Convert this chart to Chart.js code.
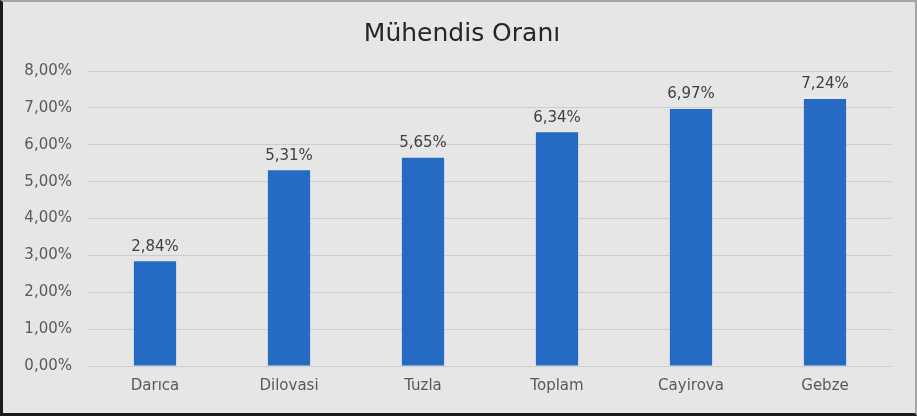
<!DOCTYPE html>
<html>
<head>
<meta charset="utf-8">
<script src="https://cdn.jsdelivr.net/npm/chart.js@4"></script>
<style>
  html, body { margin: 0; padding: 0; background: #ffffff; }
  #wrap {
    box-sizing: border-box;
    width: 917px; height: 416px;
    background: #e6e6e6;
    border-left: 3px solid #1c1c1c;
    border-bottom: 3px solid #1c1c1c;
    border-top: 2px solid #a6a6a6;
    border-right: 2px solid #a6a6a6;
    position: relative;
  }
</style>
</head>
<body>
<div id="wrap"><canvas id="chart"></canvas></div>
<script>
const categories = ["Darıca", "Dilovasi", "Tuzla", "Toplam", "Cayirova", "Gebze"];
const engineerRatio = [2.84, 5.31, 5.65, 6.34, 6.97, 7.24];
const yTicks = [0, 1, 2, 3, 4, 5, 6, 7, 8];
const chartTitle = "Mühendis Oranı";

const fontFamily = "'DejaVu Sans', sans-serif";

function pct(v) {
    return v.toFixed(2).replace('.', ',') + '%';
}

// title over the middle of the whole box, and value labels over each bar
const textLayer = {
    id: 'textLayer',
    afterDatasetsDraw(chart) {
        const ctx = chart.ctx;
        const meta = chart.getDatasetMeta(0);
        ctx.save();
        ctx.font = "25px " + fontFamily;
        ctx.fillStyle = '#262626';
        ctx.textAlign = 'center';
        ctx.textBaseline = 'middle';
        ctx.fillText(chartTitle, chart.width / 2 + 3, 32);

        ctx.font = "15px " + fontFamily;
        ctx.fillStyle = '#404040';
        ctx.textBaseline = 'bottom';
        meta.data.forEach(function(bar, i) {
            ctx.fillText(pct(engineerRatio[i]), bar.x, bar.y - 7);
        });
        ctx.restore();
    }
};

const ctx = document.getElementById("chart").getContext("2d");
new Chart(ctx, {
    type: 'bar',
    data: {
        labels: categories,
        datasets: [{
            label: chartTitle,
            data: engineerRatio,
            backgroundColor: '#256bc3',
            barPercentage: 0.315,
            categoryPercentage: 1
        }]
    },
    options: {
        responsive: true,
        maintainAspectRatio: false,
        animation: false,
        layout: { padding: { left: 0, right: 23, top: 69, bottom: 0 } },
        plugins: {
            legend: { display: false },
            tooltip: { enabled: false },
            title: { display: false }
        },
        scales: {
            x: {
                grid: { display: false, drawTicks: false },
                border: { display: false },
                ticks: { color: '#595959', font: { family: fontFamily, size: 15 }, padding: 11 },
                afterFit(s) { s.height = 47; }
            },
            y: {
                min: 0,
                max: 8,
                afterBuildTicks(s) { s.ticks = yTicks.map(v => ({ value: v })); },
                grid: { color: '#cdcdcd', lineWidth: 1, drawTicks: false },
                border: { display: false },
                ticks: {
                    color: '#595959',
                    font: { family: fontFamily, size: 15 },
                    padding: 16,
                    callback: v => pct(v)
                },
                afterFit(s) { s.width = 85; }
            }
        }
    },
    plugins: [textLayer]
});
</script>
</body>
</html>
